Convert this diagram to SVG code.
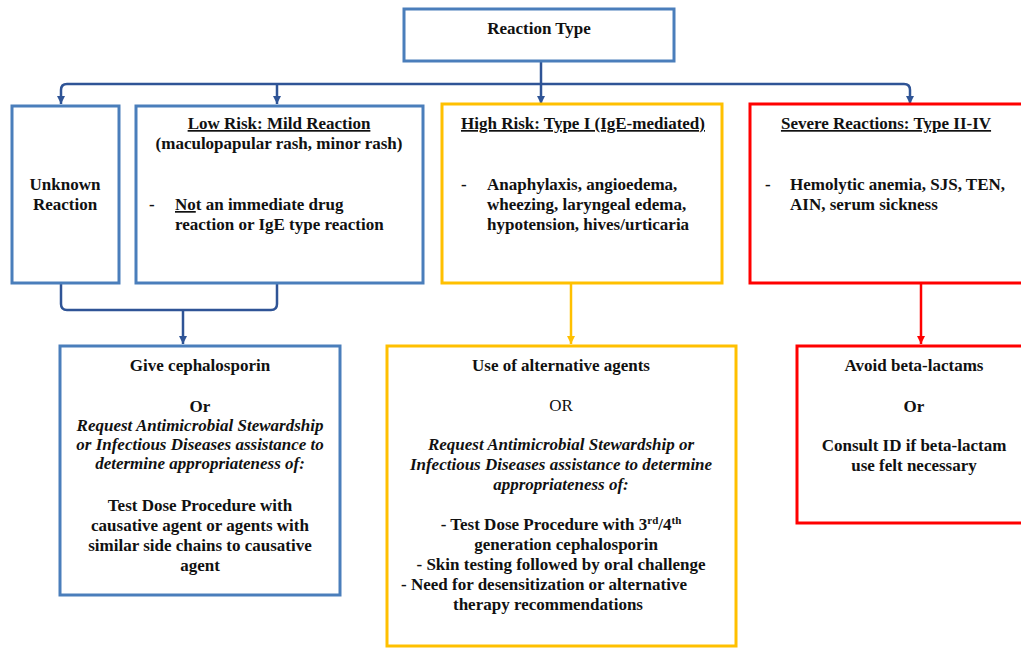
<svg xmlns="http://www.w3.org/2000/svg" width="1021" height="648" viewBox="0 0 1021 648">
<defs>
<style>
.t{font-family:"Liberation Serif","Times New Roman",serif;font-size:17px;font-weight:bold;fill:#111;}
.c{text-anchor:middle;}
.i{font-style:italic;}
.n{font-weight:normal;}
.u{text-decoration:underline;}
.bb{fill:#fff;stroke:#4A7EBB;stroke-width:3;}
.yb{fill:#fff;stroke:#FFC000;stroke-width:3;}
.rb{fill:#fff;stroke:#FF0000;stroke-width:3;}
.cb{fill:none;stroke:#2F5496;stroke-width:2.5;}
.cy{fill:none;stroke:#FFC000;stroke-width:2.5;}
.cr{fill:none;stroke:#FF0000;stroke-width:2.5;}
</style>
<marker id="ab" markerUnits="userSpaceOnUse" markerWidth="9" markerHeight="9" refX="8" refY="4" orient="auto"><path d="M0,0 L8,4 L0,8 z" fill="#2F5496"/></marker>
<marker id="ay" markerUnits="userSpaceOnUse" markerWidth="9" markerHeight="9" refX="8" refY="4" orient="auto"><path d="M0,0 L8,4 L0,8 z" fill="#FFC000"/></marker>
<marker id="ar" markerUnits="userSpaceOnUse" markerWidth="9" markerHeight="9" refX="8" refY="4" orient="auto"><path d="M0,0 L8,4 L0,8 z" fill="#FF0000"/></marker>
</defs>
<rect width="1021" height="648" fill="#fff"/>

<g id="connectors">
<path class="cb" d="M541,62 V104" marker-end="url(#ab)"/>
<path class="cb" d="M541,84 H67 Q61,84 61,90 V104" marker-end="url(#ab)"/>
<path class="cb" d="M541,84 H904 Q910,84 910,90 V104" marker-end="url(#ab)"/>
<path class="cb" d="M277,84 V104" marker-end="url(#ab)"/>
<path class="cb" d="M61,283 V304 Q61,310 67,310 H271 Q277,310 277,304 V283"/>
<path class="cb" d="M183,310 V344" marker-end="url(#ab)"/>
<path class="cy" d="M571,283 V344" marker-end="url(#ay)"/>
<path class="cr" d="M921,283 V344" marker-end="url(#ar)"/>
</g>

<g id="reaction-type">
<rect class="bb" x="404" y="9" width="270" height="52"/>
<text class="t c" x="539" y="34">Reaction Type</text>
</g>

<g id="unknown">
<rect class="bb" x="12" y="106" width="107" height="177"/>
<text class="t c" x="65" y="190">Unknown</text>
<text class="t c" x="65" y="210">Reaction</text>
</g>

<g id="low-risk">
<rect class="bb" x="136" y="106" width="287" height="177"/>
<text class="t c u" x="279" y="129">Low Risk: Mild Reaction</text>
<text class="t c" x="279" y="149">(maculopapular rash, minor rash)</text>
<text class="t" x="149" y="210">-</text>
<text class="t" x="175" y="210"><tspan class="u">No</tspan>t an immediate drug</text>
<text class="t" x="175" y="230">reaction or IgE type reaction</text>
</g>

<g id="high-risk">
<rect class="yb" x="442" y="104" width="280" height="179"/>
<text class="t c u" x="583" y="129">High Risk: Type I (IgE-mediated)</text>
<text class="t" x="461" y="190">-</text>
<text class="t" x="487" y="190">Anaphylaxis, angioedema,</text>
<text class="t" x="487" y="210">wheezing, laryngeal edema,</text>
<text class="t" x="487" y="230">hypotension, hives/urticaria</text>
</g>

<g id="severe">
<rect class="rb" x="750" y="104" width="280" height="179"/>
<text class="t c u" x="886" y="129">Severe Reactions: Type II-IV</text>
<text class="t" x="765" y="190">-</text>
<text class="t" x="790" y="190">Hemolytic anemia, SJS, TEN,</text>
<text class="t" x="790" y="210">AIN, serum sickness</text>
</g>

<g id="give-cephalosporin">
<rect class="bb" x="60" y="346" width="280" height="249"/>
<text class="t c" x="200" y="371">Give cephalosporin</text>
<text class="t c" x="200" y="412">Or</text>
<text class="t c i" x="200" y="431">Request Antimicrobial Stewardship</text>
<text class="t c i" x="200" y="450">or Infectious Diseases assistance to</text>
<text class="t c i" x="200" y="469">determine appropriateness of:</text>
<text class="t c" x="200" y="511">Test Dose Procedure with</text>
<text class="t c" x="200" y="531">causative agent or agents with</text>
<text class="t c" x="200" y="551">similar side chains to causative</text>
<text class="t c" x="200" y="571">agent</text>
</g>

<g id="alternative-agents">
<rect class="yb" x="387" y="346" width="349" height="300"/>
<text class="t c" x="561" y="371">Use of alternative agents</text>
<text class="t c n" x="561" y="411">OR</text>
<text class="t c i" x="561" y="450">Request Antimicrobial Stewardship or</text>
<text class="t c i" x="561" y="470">Infectious Diseases assistance to determine</text>
<text class="t c i" x="561" y="490">appropriateness of:</text>
<text class="t c" x="561" y="530">- Test Dose Procedure with 3<tspan font-size="11" baseline-shift="super">rd</tspan>/4<tspan font-size="11" baseline-shift="super">th</tspan></text>
<text class="t c" x="566" y="550">generation cephalosporin</text>
<text class="t c" x="561" y="570">- Skin testing followed by oral challenge</text>
<text class="t c" x="544" y="590">- Need for desensitization or alternative</text>
<text class="t c" x="548" y="610">therapy recommendations</text>
</g>

<g id="avoid-beta-lactams">
<rect class="rb" x="797" y="346" width="240" height="177"/>
<text class="t c" x="914" y="371">Avoid beta-lactams</text>
<text class="t c" x="914" y="412">Or</text>
<text class="t c" x="914" y="451">Consult ID if beta-lactam</text>
<text class="t c" x="914" y="471">use felt necessary</text>
</g>
</svg>
